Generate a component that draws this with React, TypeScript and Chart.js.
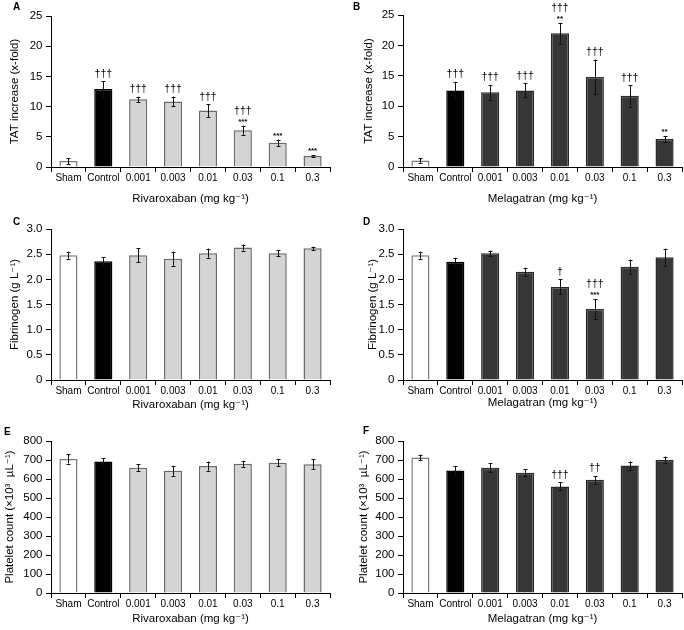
import React, { useEffect, useRef } from "react";
import { Chart, registerables } from "chart.js";

Chart.register(...registerables);

const FONT = "'Liberation Sans', Arial, Helvetica, 'DejaVu Sans', sans-serif";
Chart.defaults.font.family = FONT;
Chart.defaults.color = "#000";

// ---------- data ----------
const categories = ["Sham", "Control", "0.001", "0.003", "0.01", "0.03", "0.1", "0.3"];

const tatTicks = [0, 5, 10, 15, 20, 25];
const fibTicks = [0, 0.5, 1.0, 1.5, 2.0, 2.5, 3.0];
const pltTicks = [0, 100, 200, 300, 400, 500, 600, 700, 800];

const tatRiva = [1.0, 12.9, 11.2, 10.85, 9.35, 6.1, 4.0, 1.83];
const tatRivaErr = [0.5, 1.3, 0.45, 0.8, 1.05, 0.75, 0.55, 0.1];
const tatRivaDaggers = ["", "†††", "†††", "†††", "†††", "†††", "", ""];
const tatRivaStars = ["", "", "", "", "", "***", "***", "***"];

const tatMela = [1.05, 12.6, 12.3, 12.6, 22.0, 14.8, 11.7, 4.6];
const tatMelaErr = [0.35, 1.4, 1.2, 1.15, 1.7, 2.85, 1.75, 0.5];
const tatMelaDaggers = ["", "†††", "†††", "†††", "†††", "†††", "†††", ""];
const tatMelaStars = ["", "", "", "", "**", "", "", "**"];

const fibRiva = [2.48, 2.36, 2.48, 2.41, 2.52, 2.63, 2.52, 2.62];
const fibRivaErr = [0.07, 0.08, 0.14, 0.14, 0.09, 0.06, 0.06, 0.03];
const fibRivaDaggers = ["", "", "", "", "", "", "", ""];
const fibRivaStars = ["", "", "", "", "", "", "", ""];

const fibMela = [2.48, 2.35, 2.52, 2.15, 1.85, 1.41, 2.25, 2.44];
const fibMelaErr = [0.07, 0.08, 0.05, 0.08, 0.15, 0.2, 0.14, 0.17];
const fibMelaDaggers = ["", "", "", "", "†", "†††", "", ""];
const fibMelaStars = ["", "", "", "", "", "***", "", ""];

const pltRiva = [705, 692, 659, 643, 668, 680, 685, 677];
const pltRivaErr = [24, 16, 19, 26, 24, 16, 18, 26];
const pltRivaDaggers = ["", "", "", "", "", "", "", ""];
const pltRivaStars = ["", "", "", "", "", "", "", ""];

const pltMela = [713, 645, 659, 633, 561, 596, 671, 701];
const pltMelaErr = [15, 24, 24, 19, 21, 20, 21, 17];
const pltMelaDaggers = ["", "", "", "", "†††", "††", "", ""];
const pltMelaStars = ["", "", "", "", "", "", "", ""];

const tatTitle = "TAT increase (x-fold)";
const fibTitle = "Fibrinogen (g L\u207B\u00B9)";
const pltTitle = "Platelet count (\u00D710\u00B3  \u00B5L\u207B\u00B9)";
const rivaTitle = "Rivaroxaban (mg kg\u207B\u00B9)";
const melaTitle = "Melagatran (mg kg\u207B\u00B9)";

// ---------- styles ----------
const WHITE = "#ffffff";
const BLACK = "#000000";
const LIGHT = "#d4d4d4";
const DARK = "#363636";

function fills(drug: string) {
  const g = drug === "riva" ? LIGHT : DARK;
  return [WHITE, BLACK, g, g, g, g, g, g];
}
function borders(drug: string) {
  const g = drug === "riva" ? "#6a6a6a" : "#2a2a2a";
  return ["#7a7a7a", BLACK, g, g, g, g, g, g];
}

type PanelCfg = {
  letter: string;
  left: number;
  top: number;
  values: number[];
  errors: number[];
  daggers: string[];
  stars: string[];
  drug: string;
  ticks: number[];
  yTitle: string;
  xTitle: string;
  fmt: (v: number) => string;
  padTop: number;
  yWidth: number;
  padRight: number;
  xHeight: number;
  yTitlePad: number;
  xTitlePad: number;
  letterX: number;
  letterY: number;
};

const W = 342;
const H = 210;

const panels: PanelCfg[] = [
  {
    letter: "A", left: 0, top: 0, values: tatRiva, errors: tatRivaErr, daggers: tatRivaDaggers, stars: tatRivaStars,
    drug: "riva", ticks: tatTicks, yTitle: tatTitle, xTitle: rivaTitle, fmt: (v) => String(v),
    padTop: 16, yWidth: 51, padRight: 12, xHeight: 43, yTitlePad: 8, xTitlePad: 4, letterX: 13, letterY: 10,
  },
  {
    letter: "B", left: 342, top: 0, values: tatMela, errors: tatMelaErr, daggers: tatMelaDaggers, stars: tatMelaStars,
    drug: "mela", ticks: tatTicks, yTitle: tatTitle, xTitle: melaTitle, fmt: (v) => String(v),
    padTop: 15, yWidth: 61, padRight: 2, xHeight: 43, yTitlePad: 20, xTitlePad: 4, letterX: 11, letterY: 10,
  },
  {
    letter: "C", left: 0, top: 210, values: fibRiva, errors: fibRivaErr, daggers: fibRivaDaggers, stars: fibRivaStars,
    drug: "riva", ticks: fibTicks, yTitle: fibTitle, xTitle: rivaTitle, fmt: (v) => (v === 0 ? "0" : v.toFixed(1)),
    padTop: 19, yWidth: 51, padRight: 12, xHeight: 40, yTitlePad: 7.5, xTitlePad: 8, letterX: 13, letterY: 15,
  },
  {
    letter: "D", left: 342, top: 210, values: fibMela, errors: fibMelaErr, daggers: fibMelaDaggers, stars: fibMelaStars,
    drug: "mela", ticks: fibTicks, yTitle: fibTitle, xTitle: melaTitle, fmt: (v) => (v === 0 ? "0" : v.toFixed(1)),
    padTop: 19, yWidth: 61, padRight: 2, xHeight: 40, yTitlePad: 24, xTitlePad: 10, letterX: 21, letterY: 15,
  },
  {
    letter: "E", left: 0, top: 420, values: pltRiva, errors: pltRivaErr, daggers: pltRivaDaggers, stars: pltRivaStars,
    drug: "riva", ticks: pltTicks, yTitle: pltTitle, xTitle: rivaTitle, fmt: (v) => String(v),
    padTop: 21, yWidth: 51, padRight: 12, xHeight: 37, yTitlePad: 2.5, xTitlePad: 4, letterX: 4, letterY: 15,
  },
  {
    letter: "F", left: 342, top: 420, values: pltMela, errors: pltMelaErr, daggers: pltMelaDaggers, stars: pltMelaStars,
    drug: "mela", ticks: pltTicks, yTitle: pltTitle, xTitle: melaTitle, fmt: (v) => String(v),
    padTop: 21, yWidth: 61, padRight: 2, xHeight: 37, yTitlePad: 14.5, xTitlePad: 4, letterX: 21, letterY: 14,
  },
];

function drawAnn(ctx: CanvasRenderingContext2D, text: string, font: string, x: number, bottom: number) {
  ctx.font = font;
  const m = ctx.measureText(text);
  const base = bottom - m.actualBoundingBoxDescent;
  ctx.fillText(text, x, base);
  return base - m.actualBoundingBoxAscent;
}

function Panel({ cfg }: { cfg: PanelCfg }) {
  const ref = useRef<HTMLCanvasElement>(null);

  useEffect(() => {
    if (!ref.current) return;
    const extras = {
      id: "extras",
      afterDatasetsDraw(chart: any) {
        const ctx: CanvasRenderingContext2D = chart.ctx;
        const meta = chart.getDatasetMeta(0);
        const ys = chart.scales.y;
        ctx.save();
        ctx.strokeStyle = "#111";
        ctx.fillStyle = "#000";
        ctx.lineWidth = 1;
        meta.data.forEach((bar: any, i: number) => {
          const v = cfg.values[i];
          const e = cfg.errors[i];
          const x = Math.round(bar.x) + 0.5;
          const yt = ys.getPixelForValue(v + e);
          const yb = ys.getPixelForValue(v - e);
          ctx.beginPath();
          ctx.moveTo(x, yt);
          ctx.lineTo(x, yb);
          ctx.moveTo(x - 2, Math.round(yt) + 0.5);
          ctx.lineTo(x + 2, Math.round(yt) + 0.5);
          ctx.moveTo(x - 2, Math.round(yb) + 0.5);
          ctx.lineTo(x + 2, Math.round(yb) + 0.5);
          ctx.stroke();
          ctx.textAlign = "center";
          ctx.textBaseline = "alphabetic";
          let bottom = yt - 4;
          if (cfg.stars[i]) {
            const top = drawAnn(ctx, cfg.stars[i], `bold 8px ${FONT}`, bar.x, bottom);
            bottom = top - 3.5;
          } else {
            bottom = yt - 3.5;
          }
          if (cfg.daggers[i]) {
            drawAnn(ctx, cfg.daggers[i], `10.5px ${FONT}`, bar.x, bottom);
          }
        });
        ctx.restore();
      },
      afterDraw(chart: any) {
        const ctx: CanvasRenderingContext2D = chart.ctx;
        ctx.save();
        ctx.fillStyle = "#000";
        ctx.font = `bold 10px ${FONT}`;
        ctx.textAlign = "left";
        ctx.textBaseline = "alphabetic";
        ctx.fillText(cfg.letter, cfg.letterX, cfg.letterY);
        ctx.restore();
      },
    };

    const chart = new Chart(ref.current, {
      type: "bar",
      data: {
        labels: categories,
        datasets: [
          {
            data: cfg.values,
            backgroundColor: fills(cfg.drug),
            borderColor: borders(cfg.drug),
            borderWidth: 1.5,
            categoryPercentage: 1,
            barPercentage: 0.52,
          },
        ],
      },
      options: {
        responsive: false,
        animation: false,
        devicePixelRatio: 1,
        layout: { padding: { top: cfg.padTop, right: cfg.padRight, left: 0, bottom: 0 } },
        plugins: { legend: { display: false }, tooltip: { enabled: false }, title: { display: false } },
        scales: {
          x: {
            type: "category",
            offset: true,
            grid: { display: true, offset: true, drawOnChartArea: false, drawTicks: true, tickLength: 5, color: "#000" },
            border: { display: true, color: "#000", width: 1 },
            ticks: { font: { size: 10 }, color: "#000", padding: 0.5, maxRotation: 0, autoSkip: false },
            title: { display: true, text: cfg.xTitle, color: "#000", font: { size: 11.5 }, padding: { top: 0, bottom: cfg.xTitlePad } },
            afterFit: (s: any) => {
              s.height = cfg.xHeight;
              s.paddingLeft = 0;
              s.paddingRight = 0;
            },
          },
          y: {
            min: cfg.ticks[0],
            max: cfg.ticks[cfg.ticks.length - 1],
            afterBuildTicks: (s: any) => {
              s.ticks = cfg.ticks.map((v) => ({ value: v }));
            },
            grid: { display: true, drawOnChartArea: false, drawTicks: true, tickLength: 5, color: "#000" },
            border: { display: true, color: "#000", width: 1 },
            ticks: { font: { size: 11.5 }, color: "#000", padding: 3.5, callback: (v: any) => cfg.fmt(Number(v)) },
            title: { display: true, text: cfg.yTitle, color: "#000", font: { size: 11.5 }, padding: { top: cfg.yTitlePad, bottom: 0 } },
            afterFit: (s: any) => {
              s.width = cfg.yWidth;
              s.paddingTop = 0;
              s.paddingBottom = 0;
            },
          },
        },
      },
      plugins: [extras],
    } as any);
    return () => chart.destroy();
  }, [cfg]);

  return (
    <div style={{ position: "absolute", left: cfg.left, top: cfg.top, width: W, height: H }}>
      <canvas ref={ref} width={W} height={H} style={{ width: W, height: H, display: "block" }} />
    </div>
  );
}

export default function App() {
  return (
    <div style={{ position: "absolute", left: 0, top: 0, width: 684, height: 630, background: "#fff", overflow: "hidden" }}>
      {panels.map((p) => (
        <Panel key={p.letter} cfg={p} />
      ))}
    </div>
  );
}
